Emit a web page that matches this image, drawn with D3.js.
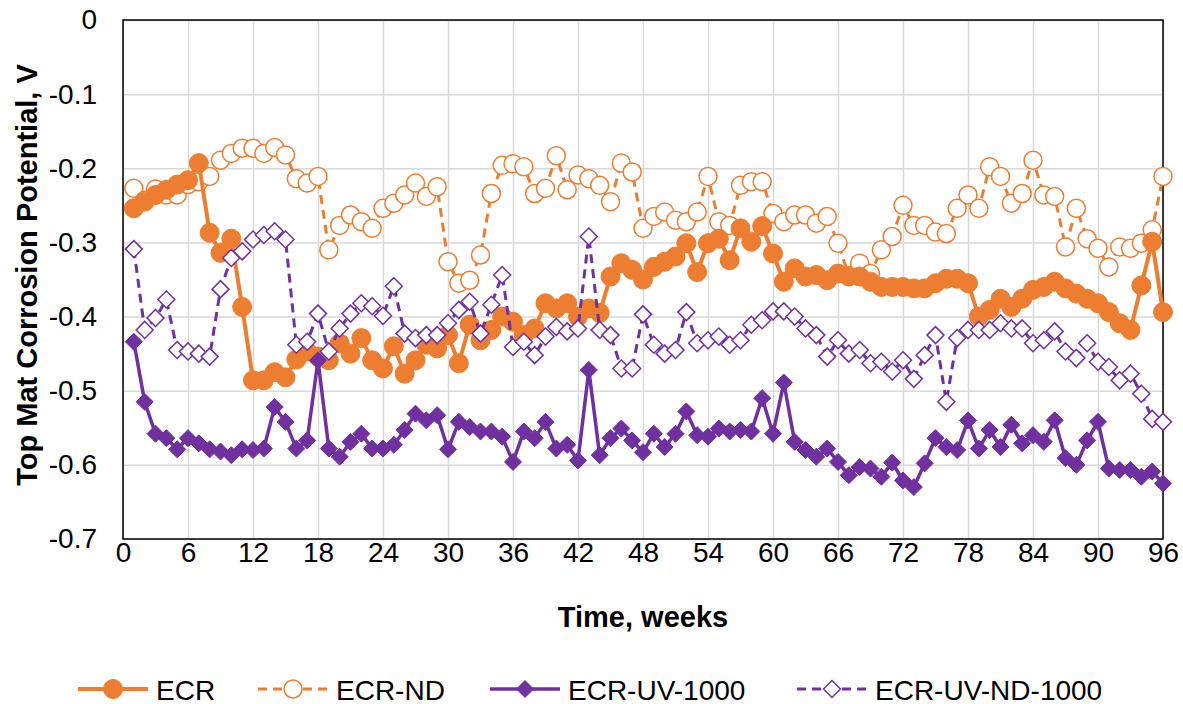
<!DOCTYPE html>
<html lang="en">
<head>
    <meta charset="UTF-8">
    <title>Top Mat Corrosion Potential</title>
    <script type="text/javascript" src="https://d3js.org/d3.v7.min.js"></script>
    <style type="text/css">
        body { margin: 0; background: #fff; }
        text { font-family: "Liberation Sans", Arial, sans-serif; fill: #000; }
    </style>
</head>
<body>
    <svg width="1183" height="704"></svg>
    <script type="text/javascript">
        // weeks 1..96
        var weeks = d3.range(1, 97);

        var xTicks = [0, 6, 12, 18, 24, 30, 36, 42, 48, 54, 60, 66, 72, 78, 84, 90, 96];
        var yTicks = [-0.7, -0.6, -0.5, -0.4, -0.3, -0.2, -0.1, 0];

        var ecr = [
            -0.254, -0.245, -0.236, -0.229, -0.222, -0.216, -0.193, -0.287, -0.314, -0.295,
            -0.387, -0.486, -0.486, -0.475, -0.482, -0.458, -0.447, -0.454, -0.459, -0.436,
            -0.450, -0.429, -0.459, -0.470, -0.440, -0.477, -0.459, -0.438, -0.443, -0.425,
            -0.463, -0.411, -0.432, -0.418, -0.400, -0.407, -0.425, -0.416, -0.382, -0.389,
            -0.382, -0.400, -0.389, -0.395, -0.346, -0.328, -0.337, -0.350, -0.333, -0.326,
            -0.319, -0.301, -0.340, -0.301, -0.295, -0.324, -0.281, -0.299, -0.278, -0.315,
            -0.353, -0.335, -0.346, -0.344, -0.351, -0.342, -0.346, -0.346, -0.353, -0.360,
            -0.360, -0.360, -0.362, -0.362, -0.355, -0.349, -0.349, -0.355, -0.400, -0.391,
            -0.376, -0.387, -0.376, -0.364, -0.360, -0.353, -0.362, -0.369, -0.376, -0.382,
            -0.394, -0.409, -0.418, -0.358, -0.299, -0.394
        ];

        var ecrNd = [
            -0.227, -0.243, -0.228, -0.236, -0.236, -0.222, -0.218, -0.211, -0.189, -0.180,
            -0.173, -0.173, -0.180, -0.172, -0.182, -0.214, -0.220, -0.211, -0.310, -0.277,
            -0.263, -0.272, -0.281, -0.254, -0.247, -0.236, -0.220, -0.238, -0.225, -0.326,
            -0.355, -0.351, -0.317, -0.234, -0.196, -0.194, -0.198, -0.234, -0.227, -0.183,
            -0.229, -0.209, -0.214, -0.223, -0.245, -0.193, -0.205, -0.281, -0.265, -0.259,
            -0.270, -0.272, -0.259, -0.211, -0.272, -0.277, -0.223, -0.218, -0.218, -0.261,
            -0.272, -0.263, -0.263, -0.274, -0.265, -0.301, -0.345, -0.328, -0.342, -0.310,
            -0.292, -0.250, -0.277, -0.277, -0.286, -0.288, -0.254, -0.236, -0.254, -0.198,
            -0.211, -0.247, -0.234, -0.189, -0.236, -0.238, -0.306, -0.254, -0.295, -0.308,
            -0.333, -0.306, -0.308, -0.301, -0.283, -0.211
        ];

        var ecrUv = [
            -0.434, -0.515, -0.558, -0.564, -0.579, -0.564, -0.571, -0.579, -0.582, -0.587,
            -0.579, -0.580, -0.578, -0.522, -0.542, -0.578, -0.567, -0.459, -0.578, -0.589,
            -0.569, -0.558, -0.578, -0.578, -0.573, -0.553, -0.531, -0.540, -0.533, -0.579,
            -0.542, -0.549, -0.555, -0.555, -0.562, -0.596, -0.555, -0.564, -0.542, -0.578,
            -0.573, -0.594, -0.472, -0.587, -0.564, -0.551, -0.567, -0.583, -0.558, -0.576,
            -0.558, -0.528, -0.560, -0.562, -0.551, -0.555, -0.553, -0.555, -0.510, -0.558,
            -0.489, -0.569, -0.580, -0.589, -0.578, -0.596, -0.614, -0.603, -0.605, -0.616,
            -0.597, -0.621, -0.630, -0.598, -0.564, -0.576, -0.580, -0.540, -0.578, -0.553,
            -0.576, -0.546, -0.571, -0.560, -0.569, -0.540, -0.591, -0.600, -0.567, -0.542,
            -0.605, -0.607, -0.607, -0.616, -0.609, -0.625
        ];

        var ecrUvNd = [
            -0.309, -0.418, -0.402, -0.377, -0.445, -0.447, -0.450, -0.454, -0.363, -0.321,
            -0.312, -0.296, -0.290, -0.285, -0.296, -0.438, -0.434, -0.396, -0.447, -0.416,
            -0.396, -0.382, -0.386, -0.399, -0.359, -0.423, -0.429, -0.425, -0.425, -0.409,
            -0.391, -0.380, -0.423, -0.384, -0.344, -0.441, -0.434, -0.452, -0.427, -0.414,
            -0.420, -0.416, -0.292, -0.418, -0.425, -0.470, -0.470, -0.397, -0.438, -0.450,
            -0.445, -0.394, -0.436, -0.432, -0.427, -0.438, -0.432, -0.411, -0.405, -0.393,
            -0.393, -0.400, -0.416, -0.425, -0.454, -0.432, -0.450, -0.445, -0.463, -0.461,
            -0.474, -0.459, -0.484, -0.452, -0.425, -0.515, -0.429, -0.418, -0.418, -0.418,
            -0.409, -0.416, -0.416, -0.436, -0.432, -0.420, -0.447, -0.456, -0.436, -0.461,
            -0.468, -0.486, -0.477, -0.504, -0.538, -0.542
        ];

        var orange = "#ED7D31", purple = "#7030A0";

        // drawing order: later ones end up on top
        var series = [
            {name: "ECR-ND", values: ecrNd, color: orange, dash: "9,6", width: 3, marker: "circle", filled: false},
            {name: "ECR", values: ecr, color: orange, dash: null, width: 4, marker: "circle", filled: true},
            {name: "ECR-UV-1000", values: ecrUv, color: purple, dash: null, width: 3.5, marker: "diamond", filled: true},
            {name: "ECR-UV-ND-1000", values: ecrUvNd, color: purple, dash: "9,6", width: 3, marker: "diamond", filled: false}
        ];
        var legendOrder = ["ECR", "ECR-ND", "ECR-UV-1000", "ECR-UV-ND-1000"];

        var svg = d3.select("svg"),
            margin = {left: 123, top: 20, right: 20, bottom: 165},
            width = +svg.attr("width") - margin.left - margin.right,
            height = +svg.attr("height") - margin.top - margin.bottom;

        var x = d3.scaleLinear().domain([0, 96]).range([0, width]);
        var y = d3.scaleLinear().domain([-0.7, 0]).range([height, 0]);

        var g = svg.append("g")
            .attr("transform", "translate(" + margin.left + "," + margin.top + ")");

        // gridlines
        g.append("g")
            .call(d3.axisLeft(y).tickValues(yTicks).tickSize(-width).tickFormat(""))
            .call(function(a) {
                a.select(".domain").remove();
                a.selectAll("line").attr("stroke", "#d9d9d9").attr("stroke-width", 1.5);
            });
        g.append("g")
            .attr("transform", "translate(0," + height + ")")
            .call(d3.axisBottom(x).tickValues(xTicks).tickSize(-height).tickFormat(""))
            .call(function(a) {
                a.select(".domain").remove();
                a.selectAll("line").attr("stroke", "#d9d9d9").attr("stroke-width", 1.5);
            });

        // tick labels
        var yAxis = g.append("g")
            .call(d3.axisLeft(y).tickValues(yTicks).tickSize(0).tickPadding(26)
                .tickFormat(function(d) { return Math.abs(d) < 1e-9 ? "0" : d.toFixed(1); }));
        yAxis.select(".domain").remove();
        yAxis.selectAll("text").attr("font-size", "28px")
            .style("font-family", "'Liberation Sans', Arial, sans-serif");

        var xAxis = g.append("g")
            .attr("transform", "translate(0," + height + ")")
            .call(d3.axisBottom(x).tickValues(xTicks).tickSize(0).tickPadding(3));
        xAxis.select(".domain").remove();
        xAxis.selectAll("text").attr("font-size", "28px")
            .style("font-family", "'Liberation Sans', Arial, sans-serif");

        // plot border
        g.append("rect")
            .attr("width", width).attr("height", height)
            .attr("fill", "none").attr("stroke", "#000").attr("stroke-width", 1.5);

        function diamond(h) {
            return "M0," + (-h) + "L" + h + ",0L0," + h + "L" + (-h) + ",0Z";
        }

        function drawMarker(sel, s) {
            if (s.marker === "circle") {
                sel.append("circle")
                    .attr("r", s.filled ? 9.5 : 9)
                    .attr("fill", s.filled ? s.color : "#fff")
                    .attr("stroke", s.color)
                    .attr("stroke-width", s.filled ? 1 : 1.5);
            } else {
                sel.append("path")
                    .attr("d", diamond(8.5))
                    .attr("fill", s.filled ? s.color : "#fff")
                    .attr("stroke", s.color)
                    .attr("stroke-width", s.filled ? 1 : 1.5);
            }
        }

        var line = d3.line()
            .x(function(d) { return x(d.week); })
            .y(function(d) { return y(d.v); });

        series.forEach(function(s) {
            var pts = weeks.map(function(w, i) { return {week: w, v: s.values[i]}; });
            var sg = g.append("g").attr("class", "series");
            sg.append("path")
                .datum(pts)
                .attr("fill", "none")
                .attr("stroke", s.color)
                .attr("stroke-width", s.width)
                .attr("stroke-dasharray", s.dash)
                .attr("d", line);
            sg.selectAll(".pt")
                .data(pts)
                .enter().append("g")
                .attr("class", "pt")
                .attr("transform", function(d) { return "translate(" + x(d.week) + "," + y(d.v) + ")"; })
                .each(function() { drawMarker(d3.select(this), s); });
        });

        // axis titles
        svg.append("text")
            .attr("x", margin.left + width / 2)
            .attr("y", 627)
            .attr("text-anchor", "middle")
            .attr("font-size", "29px")
            .attr("font-weight", "bold")
            .text("Time, weeks");

        svg.append("text")
            .attr("transform", "translate(37,275) rotate(-90)")
            .attr("text-anchor", "middle")
            .attr("font-size", "29px")
            .attr("font-weight", "bold")
            .text("Top Mat Corrosion Potential, V");

        // legend
        var legendX = [78, 258, 490, 797];
        var legend = svg.append("g").attr("transform", "translate(0,689)");
        legendOrder.forEach(function(name, i) {
            var s = series.find(function(d) { return d.name === name; });
            var lg = legend.append("g").attr("transform", "translate(" + legendX[i] + ",0)");
            lg.append("line")
                .attr("x1", 0).attr("x2", 70)
                .attr("stroke", s.color)
                .attr("stroke-width", s.width)
                .attr("stroke-dasharray", s.dash);
            drawMarker(lg.append("g").attr("transform", "translate(35,0)"), s);
            lg.append("text")
                .attr("x", 78)
                .attr("y", 10.5)
                .attr("font-size", "28px")
                .text(name);
        });
    </script>
</body>
</html>
